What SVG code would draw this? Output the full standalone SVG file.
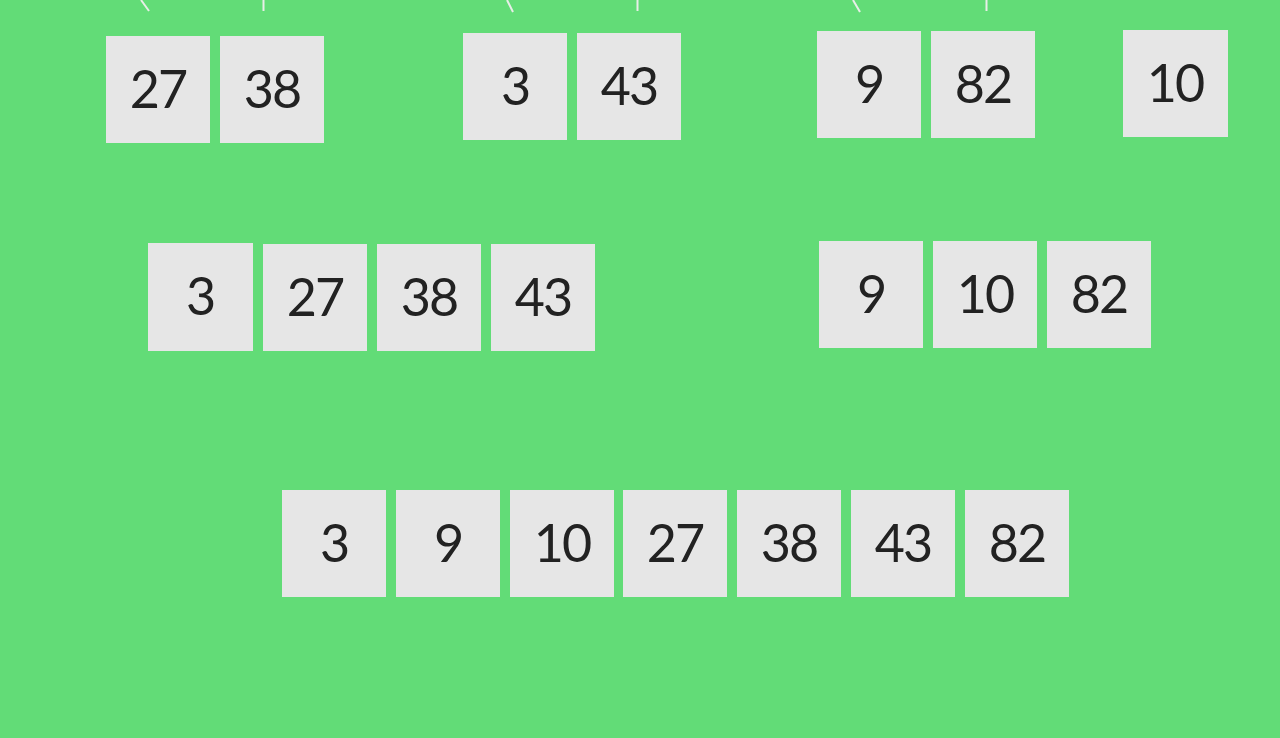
<svg xmlns="http://www.w3.org/2000/svg" width="1280" height="738" viewBox="0 0 1280 738">
<style>
.b{fill:#e6e6e6}
.t{font-family:Lato,"Noto Sans",sans-serif;font-size:52px;fill:#222;text-anchor:middle;letter-spacing:-2px}
.c{stroke:#e8eee8;stroke-width:2;fill:none}
</style>
<rect width="1280" height="738" fill="#62dc77"/>
<g id="connectors">
<line class="c" x1="141" y1="0" x2="149" y2="11"/>
<line class="c" x1="263.5" y1="0" x2="263.5" y2="11"/>
<line class="c" x1="507" y1="0" x2="513" y2="12"/>
<line class="c" x1="637.5" y1="0" x2="637.5" y2="11"/>
<line class="c" x1="853" y1="0" x2="860" y2="12"/>
<line class="c" x1="986.5" y1="0" x2="986.5" y2="11"/>
</g>
<g id="n27a"><rect class="b" x="106" y="36" width="104" height="107"/><text class="t" x="158" y="108">27</text></g>
<g id="n38a"><rect class="b" x="220" y="36" width="104" height="107"/><text class="t" x="272" y="108">38</text></g>
<g id="n3a"><rect class="b" x="463" y="33" width="104" height="107"/><text class="t" x="515" y="105">3</text></g>
<g id="n43a"><rect class="b" x="577" y="33" width="104" height="107"/><text class="t" x="629" y="105">43</text></g>
<g id="n9a"><rect class="b" x="817" y="31" width="104" height="107"/><text class="t" x="869" y="103">9</text></g>
<g id="n82a"><rect class="b" x="931" y="31" width="104" height="107"/><text class="t" x="983" y="103">82</text></g>
<g id="n10a"><rect class="b" x="1123" y="30" width="105" height="107"/><text class="t" x="1175" y="102">10</text></g>
<g id="n3b"><rect class="b" x="148" y="243" width="105" height="108"/><text class="t" x="200" y="315">3</text></g>
<g id="n27b"><rect class="b" x="263" y="244" width="104" height="107"/><text class="t" x="315" y="316">27</text></g>
<g id="n38b"><rect class="b" x="377" y="244" width="104" height="107"/><text class="t" x="429" y="316">38</text></g>
<g id="n43b"><rect class="b" x="491" y="244" width="104" height="107"/><text class="t" x="543" y="316">43</text></g>
<g id="n9b"><rect class="b" x="819" y="241" width="104" height="107"/><text class="t" x="871" y="313">9</text></g>
<g id="n10b"><rect class="b" x="933" y="241" width="104" height="107"/><text class="t" x="985" y="313">10</text></g>
<g id="n82b"><rect class="b" x="1047" y="241" width="104" height="107"/><text class="t" x="1099" y="313">82</text></g>
<g id="n3c"><rect class="b" x="282" y="490" width="104" height="107"/><text class="t" x="334" y="562">3</text></g>
<g id="n9c"><rect class="b" x="396" y="490" width="104" height="107"/><text class="t" x="448" y="562">9</text></g>
<g id="n10c"><rect class="b" x="510" y="490" width="104" height="107"/><text class="t" x="562" y="562">10</text></g>
<g id="n27c"><rect class="b" x="623" y="490" width="104" height="107"/><text class="t" x="675" y="562">27</text></g>
<g id="n38c"><rect class="b" x="737" y="490" width="104" height="107"/><text class="t" x="789" y="562">38</text></g>
<g id="n43c"><rect class="b" x="851" y="490" width="104" height="107"/><text class="t" x="903" y="562">43</text></g>
<g id="n82c"><rect class="b" x="965" y="490" width="104" height="107"/><text class="t" x="1017" y="562">82</text></g>
</svg>
